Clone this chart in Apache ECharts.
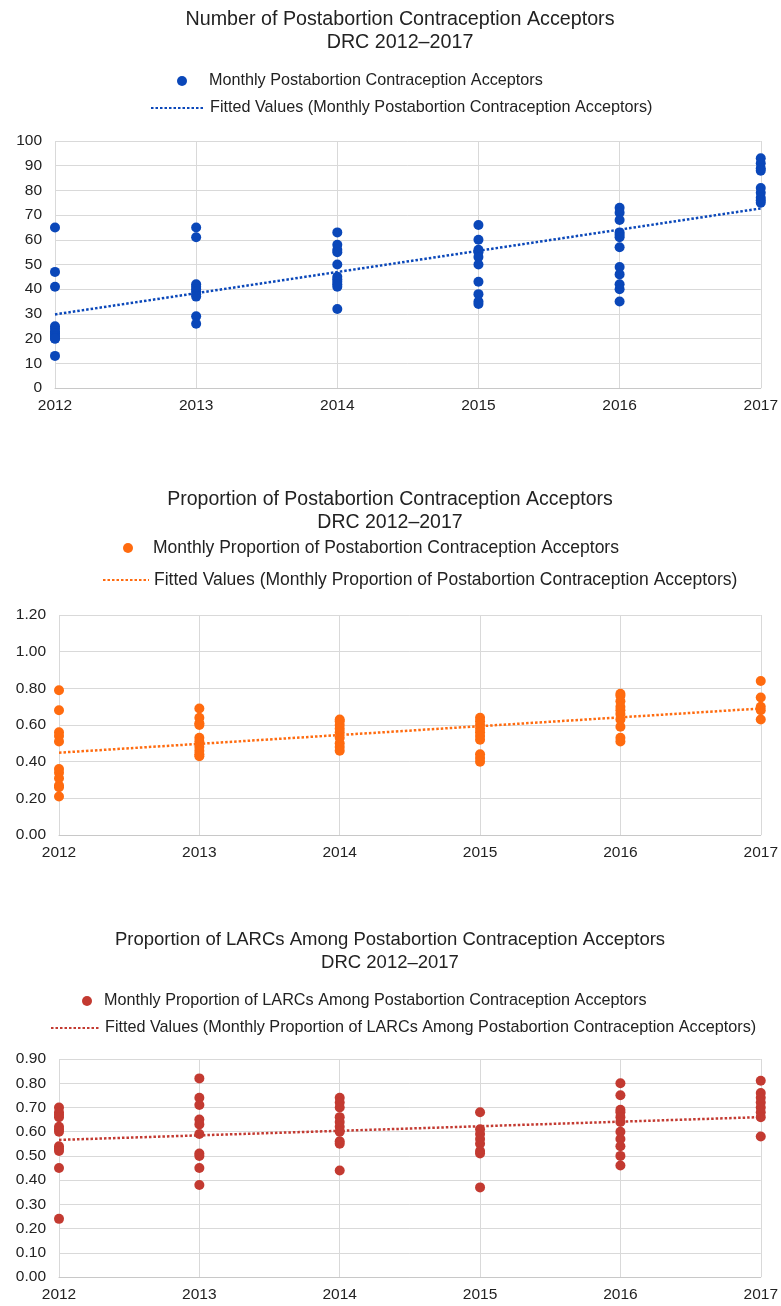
<!DOCTYPE html>
<html><head><meta charset="utf-8">
<script src="https://cdn.jsdelivr.net/npm/echarts@6/dist/echarts.min.js"></script>
<style>html,body{margin:0;padding:0;background:#fff}#c{width:781px;height:1306px}</style>
</head><body><div id="c"></div>
<script>
const years = [2012, 2013, 2014, 2015, 2016, 2017];
const yearTicks = ['2012', '2013', '2014', '2015', '2016', '2017'];

// Chart 1: monthly number of acceptors, grouped by year
const acceptorsByYear = [
  [65, 47, 41, 25, 24, 23, 22, 22, 21, 20, 20, 13],
  [65, 61, 42, 41, 40, 39, 38, 37, 29, 26],
  [63, 58, 56, 55, 50, 45, 44, 43, 42, 41, 32],
  [66, 60, 56, 55, 53, 50, 43, 38, 35, 34],
  [73, 71, 68, 63, 62, 61, 57, 49, 46, 42, 40, 35],
  [93, 91, 89, 88, 81, 79, 77, 76, 75]
];
const acceptorsFit = [29.8, 72.7];

// Chart 2: monthly proportion of acceptors
const proportionByYear = [
  [0.79, 0.68, 0.56, 0.54, 0.51, 0.36, 0.34, 0.31, 0.27, 0.26, 0.21],
  [0.69, 0.64, 0.61, 0.60, 0.53, 0.51, 0.48, 0.46, 0.44, 0.43],
  [0.63, 0.62, 0.60, 0.58, 0.56, 0.53, 0.50, 0.48, 0.46],
  [0.64, 0.62, 0.60, 0.58, 0.56, 0.54, 0.52, 0.44, 0.42, 0.40],
  [0.77, 0.76, 0.73, 0.70, 0.68, 0.66, 0.63, 0.59, 0.53, 0.51],
  [0.84, 0.75, 0.70, 0.68, 0.63]
];
const proportionFit = [0.449, 0.690];

// Chart 3: monthly proportion of LARCs
const larcByYear = [
  [0.70, 0.68, 0.67, 0.66, 0.62, 0.61, 0.60, 0.54, 0.53, 0.52, 0.45, 0.24],
  [0.82, 0.74, 0.71, 0.65, 0.63, 0.59, 0.51, 0.50, 0.45, 0.38],
  [0.74, 0.72, 0.70, 0.66, 0.64, 0.62, 0.60, 0.56, 0.55, 0.44],
  [0.68, 0.61, 0.59, 0.57, 0.55, 0.52, 0.51, 0.37],
  [0.80, 0.75, 0.69, 0.68, 0.66, 0.64, 0.60, 0.57, 0.54, 0.50, 0.46],
  [0.81, 0.76, 0.74, 0.72, 0.70, 0.68, 0.66, 0.58]
];
const larcFit = [0.566, 0.660];

const FONT = '"Liberation Sans", Arial, sans-serif';
const TXT = '#222';
const GRIDC = '#d9d9d9';

function pts(byYear) {
  const out = [];
  byYear.forEach((vals, i) => vals.forEach(v => out.push([years[i], v])));
  return out;
}
function fitPts(fit) { return [[years[0], fit[0]], [years[years.length - 1], fit[1]]]; }

const charts = [
  { title: 'Number of Postabortion Contraception Acceptors\nDRC 2012\u20132017', titleTop: 8, titleSize: 19.7, titleX: 400,
    scatterName: 'Monthly Postabortion Contraception Acceptors',
    fitName: 'Fitted Values (Monthly Postabortion Contraception Acceptors)',
    color: '#0a47b9', data: acceptorsByYear, fit: acceptorsFit, legSize: 16.2,
    grid: { left: 55, top: 141, height: 247 }, ymin: 0, ymax: 100, yint: 10, dec: 0,
    leg1: { left: 177, top: 71, pad: 17 }, leg2: { left: 150, top: 98, w: 52, pad: 2 } },
  { title: 'Proportion of Postabortion Contraception Acceptors\nDRC 2012\u20132017', titleTop: 488, titleSize: 19.5, titleX: 390,
    scatterName: 'Monthly Proportion of Postabortion Contraception Acceptors',
    fitName: 'Fitted Values (Monthly Proportion of Postabortion Contraception Acceptors)',
    color: '#ff6b0f', data: proportionByYear, fit: proportionFit, legSize: 17.5,
    grid: { left: 59, top: 615, height: 220 }, ymin: 0, ymax: 1.2, yint: 0.2, dec: 2,
    leg1: { left: 123, top: 538, pad: 15 }, leg2: { left: 102, top: 570, w: 46, pad: 0 } },
  { title: 'Proportion of LARCs Among Postabortion Contraception Acceptors\nDRC 2012\u20132017', titleTop: 928, titleSize: 18.5, titleX: 390,
    scatterName: 'Monthly Proportion of LARCs Among Postabortion Contraception Acceptors',
    fitName: 'Fitted Values (Monthly Proportion of LARCs Among Postabortion Contraception Acceptors)',
    color: '#c33a31', data: larcByYear, fit: larcFit, legSize: 16.2,
    grid: { left: 59, top: 1059, height: 218 }, ymin: 0, ymax: 0.9, yint: 0.1, dec: 2,
    leg1: { left: 82, top: 991, pad: 7 }, leg2: { left: 50, top: 1018, w: 48, pad: 1 } }
];

const option = { animation: false, backgroundColor: '#fff',
  title: [], legend: [], grid: [], xAxis: [], yAxis: [], series: [] };

charts.forEach((c, i) => {
  option.title.push({ text: c.title, left: c.titleX, top: c.titleTop, textAlign: 'center', padding: 0,
    textStyle: { fontFamily: FONT, fontSize: c.titleSize, fontWeight: 'normal', color: TXT, lineHeight: 23 } });
  option.legend.push({ data: [c.scatterName], left: c.leg1.left, top: c.leg1.top, padding: 0,
    icon: 'circle', itemWidth: 10, itemHeight: 10, selectedMode: false,
    textStyle: { fontFamily: FONT, fontSize: c.legSize, color: TXT, lineHeight: 20, padding: [0, 0, 0, c.leg1.pad] } });
  option.legend.push({ data: [c.fitName], left: c.leg2.left, top: c.leg2.top, padding: 0,
    itemWidth: c.leg2.w, itemHeight: 14, selectedMode: false,
    itemStyle: { opacity: 0 },
    textStyle: { fontFamily: FONT, fontSize: c.legSize, color: TXT, lineHeight: 20, padding: [0, 0, 0, c.leg2.pad] } });
  option.grid.push({ left: c.grid.left, right: 18, top: c.grid.top, height: c.grid.height, containLabel: false });
  option.xAxis.push({ type: 'value', gridIndex: i, min: years[0], max: years[years.length - 1], interval: 1,
    axisLine: { show: true, lineStyle: { color: '#c8c8c8', width: 1 } }, axisTick: { show: false },
    splitLine: { show: true, lineStyle: { color: GRIDC, width: 1 } },
    axisLabel: { margin: 10, fontFamily: FONT, fontSize: 15.5, color: TXT,
      formatter: v => yearTicks[years.indexOf(v)] } });
  option.yAxis.push({ type: 'value', gridIndex: i, min: c.ymin, max: c.ymax, interval: c.yint,
    axisLine: { show: false }, axisTick: { show: false },
    splitLine: { show: true, lineStyle: { color: GRIDC, width: 1 } },
    axisLabel: { margin: 13, fontFamily: FONT, fontSize: 15.5, color: TXT,
      formatter: v => v.toFixed(c.dec) } });
  option.series.push({ name: c.scatterName, type: 'scatter', xAxisIndex: i, yAxisIndex: i,
    symbolSize: 10, itemStyle: { color: c.color, opacity: 1 }, data: pts(c.data), z: 3 });
  option.series.push({ name: c.fitName, type: 'line', xAxisIndex: i, yAxisIndex: i,
    symbol: 'none', lineStyle: { color: c.color, width: 2.5, type: [2.5, 2] }, itemStyle: { color: c.color },
    data: fitPts(c.fit), z: 4 });
});

const chart = echarts.init(document.getElementById('c'), null, { renderer: 'canvas' });
chart.setOption(option);
</script>
</body></html>
